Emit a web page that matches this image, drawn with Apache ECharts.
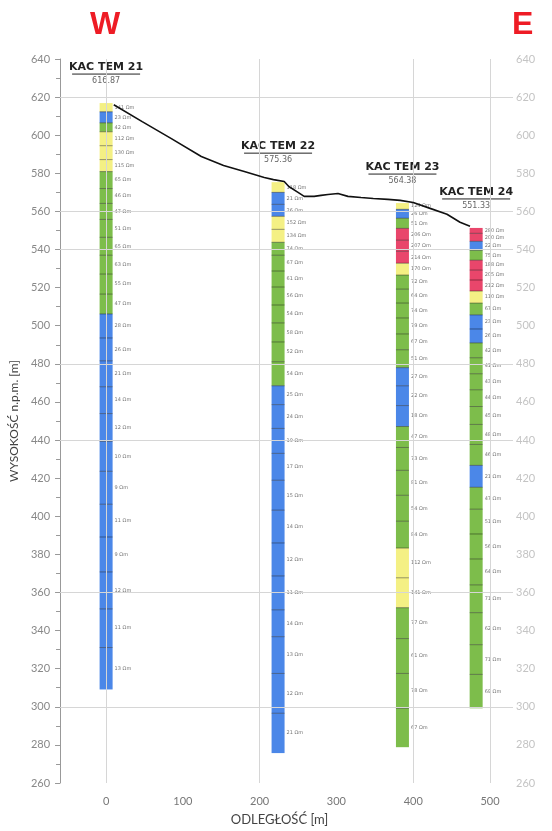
<!DOCTYPE html>
<html>
<head>
<meta charset="utf-8">
<script src="https://cdn.jsdelivr.net/npm/echarts@6/dist/echarts.min.js"></script>
<style>
  html, body { margin: 0; padding: 0; background: #fff; }
  #chart { width: 552px; height: 831px; }
</style>
</head>
<body>
<div id="chart"></div>
<script>
// boreholes
var boreNames = ['KAC TEM 21', 'KAC TEM 22', 'KAC TEM 23', 'KAC TEM 24']
var boreX = [0, 224, 386, 482]
var boreTop = ['616.87', '575.36', '564.38', '551.33']

// layer boundaries (m a.s.l.), top to bottom, and resistivity of each layer
var tem21Levels = [616.87, 612.3, 606.5, 601.8, 594.5, 587.2, 580.9, 572.0, 564.2, 555.8, 546.4, 537.0, 527.1, 516.6, 506.2, 493.6, 481.6, 468.0, 453.9, 439.3, 423.6, 406.3, 389.1, 370.8, 351.4, 331.1, 309.1]
var tem21Rho = [141, 23, 42, 112, 130, 115, 65, 46, 47, 51, 65, 63, 55, 47, 28, 26, 21, 14, 12, 10, 9, 11, 9, 12, 11, 13]

var tem22Levels = [575.36, 570.0, 563.7, 557.4, 550.6, 543.8, 537.0, 528.7, 520.3, 510.9, 501.5, 491.5, 481.1, 468.5, 458.6, 446.1, 433.0, 418.9, 403.2, 386.0, 368.7, 350.9, 336.8, 317.5, 296.6, 275.7]
var tem22Rho = [118, 21, 26, 152, 134, 74, 67, 61, 56, 54, 58, 52, 54, 25, 24, 19, 17, 15, 14, 12, 11, 14, 13, 12, 21]

var tem23Levels = [564.38, 561.1, 556.4, 551.1, 544.9, 539.1, 532.8, 526.6, 519.2, 511.9, 504.1, 495.7, 487.4, 478.0, 468.5, 458.1, 447.1, 436.1, 424.1, 411.0, 397.4, 383.3, 367.7, 352.0, 335.8, 317.5, 299.2, 278.8]
var tem23Rho = [124, 26, 51, 206, 207, 214, 170, 72, 64, 74, 79, 67, 51, 27, 22, 18, 47, 73, 81, 54, 84, 112, 141, 77, 61, 78, 67]

var tem24Levels = [551.33, 548.5, 544.3, 539.6, 534.4, 529.2, 524.0, 518.2, 511.9, 505.7, 498.3, 491.0, 483.2, 474.8, 466.4, 457.6, 448.2, 437.7, 426.7, 415.2, 403.7, 390.7, 377.6, 364.0, 349.4, 332.6, 317.0, 299.2]
var tem24Rho = [280, 200, 22, 75, 188, 205, 212, 110, 67, 23, 26, 42, 41, 43, 44, 45, 48, 46, 21, 47, 51, 56, 64, 71, 62, 71, 69]

// ground surface profile
var profileX = [10, 47, 85, 124, 153, 180, 206, 218, 232, 238, 250, 258, 271, 280, 289, 302, 315, 332, 348, 367, 383, 400, 422, 444, 461, 474]
var profileY = [616.0, 607.1, 598.2, 588.8, 584.1, 580.9, 577.8, 576.7, 575.7, 573.1, 570.0, 567.9, 567.9, 568.4, 568.9, 569.4, 567.9, 567.3, 566.8, 566.3, 565.8, 564.7, 561.6, 558.5, 554.3, 552.2]

// reference lines
var gridY = [620, 560, 540, 480, 440, 360, 300]
var gridX = [0, 200, 400, 500]
var xTicks = [0, 100, 200, 300, 400, 500]

function rhoColor(r) {
  if (r < 30) return '#4b87e8'
  if (r < 100) return '#7dbd4b'
  if (r < 180) return '#f4f084'
  return '#e9466b'
}

var levels = [tem21Levels, tem22Levels, tem23Levels, tem24Levels]
var rhos = [tem21Rho, tem22Rho, tem23Rho, tem24Rho]

var layerData = []
levels.forEach(function (lv, i) {
  rhos[i].forEach(function (r, j) {
    layerData.push([boreX[i], lv[j], lv[j + 1], r, j])
  })
})

var headData = boreX.map(function (x, i) { return [x, levels[i][0], i] })
var profile = profileX.map(function (x, i) { return [x, profileY[i]] })

var chart = echarts.init(document.getElementById('chart'))

var colW = 13

var option = {
  animation: false,
  grid: { left: 57, right: 39, top: 59, bottom: 45 },
  graphic: [
    { type: 'text', left: 90, top: 9, style: { text: 'W', fill: '#ee1c25', font: 'bold 32px "Liberation Sans", sans-serif' } },
    { type: 'text', left: 512, top: 9, style: { text: 'E', fill: '#ee1c25', font: 'bold 32px "Liberation Sans", sans-serif' } }
  ],
  xAxis: {
    type: 'value',
    min: -60,
    max: 530,
    name: 'ODLEGŁOŚĆ [m]',
    nameLocation: 'middle',
    nameGap: 30,
    nameTextStyle: { color: '#444', fontSize: 13, fontFamily: 'Lato', padding: [0, 14, 0, 0] },
    axisLine: { show: false, onZero: false },
    axisTick: { show: false },
    splitLine: { show: false },
    axisLabel: { customValues: xTicks, color: '#777', fontSize: 11, fontFamily: 'Lato', margin: 13 }
  },
  yAxis: [
    {
      type: 'value',
      min: 260,
      max: 640,
      interval: 20,
      name: 'WYSOKOŚĆ n.p.m. [m]',
      nameLocation: 'middle',
      nameGap: 40,
      nameTextStyle: { color: '#444', fontSize: 12, fontFamily: 'Lato' },
      axisLine: { show: true, onZero: false, lineStyle: { color: '#999' } },
      axisTick: { show: true, length: 5, lineStyle: { color: '#999' } },
      minorTick: { show: true, splitNumber: 2, length: 4, lineStyle: { color: '#999' } },
      splitLine: { show: false },
      axisLabel: { color: '#888', fontSize: 11, fontFamily: 'Lato', margin: 10 }
    },
    {
      type: 'value',
      position: 'right',
      min: 260,
      max: 640,
      interval: 20,
      axisLine: { show: false, onZero: false },
      axisTick: { show: false },
      splitLine: { show: false },
      axisLabel: { color: '#c4c4c4', fontSize: 11, fontFamily: 'Lato', margin: 3 }
    }
  ],
  series: [
    {
      type: 'line',
      data: [],
      z: 1,
      silent: true,
      markLine: {
        silent: true,
        symbol: 'none',
        label: { show: false },
        lineStyle: { color: '#d6d6d6', width: 1, type: 'solid' },
        data: gridY.map(function (v) { return { yAxis: v } })
          .concat(gridX.map(function (v) { return { xAxis: v } }))
      }
    },
    {
      type: 'custom',
      z: 2,
      silent: true,
      data: layerData,
      renderItem: function (params, api) {
        var x = api.value(0)
        var p1 = api.coord([x, api.value(1)])
        var p2 = api.coord([x, api.value(2)])
        var r = api.value(3)
        var kids = [
          {
            type: 'rect',
            shape: { x: p1[0] - colW / 2, y: p1[1], width: colW, height: p2[1] - p1[1] },
            style: { fill: rhoColor(r) }
          },
          {
            type: 'text',
            style: {
              text: r + ' Ωm',
              x: p1[0] + colW / 2 + 2,
              y: (p1[1] + p2[1]) / 2,
              fill: '#777',
              font: '5px "DejaVu Sans"',
              align: 'left',
              verticalAlign: 'middle'
            }
          }
        ]
        if (api.value(4) > 0) {
          kids.push({
            type: 'line',
            shape: { x1: p1[0] - colW / 2, y1: p1[1], x2: p1[0] + colW / 2, y2: p1[1] },
            style: { stroke: 'rgba(0,0,0,0.4)', lineWidth: 1 }
          })
        }
        return { type: 'group', children: kids }
      }
    },
    {
      type: 'custom',
      z: 3,
      silent: true,
      data: headData,
      renderItem: function (params, api) {
        var p = api.coord([api.value(0), api.value(1)])
        var i = api.value(2)
        return {
          type: 'group',
          children: [
            {
              type: 'text',
              style: {
                text: boreNames[i], x: p[0], y: p[1] - 36,
                fill: '#222', font: 'bold 11px "DejaVu Sans"',
                align: 'center', verticalAlign: 'middle'
              }
            },
            {
              type: 'line',
              shape: { x1: p[0] - 34, y1: p[1] - 29, x2: p[0] + 34, y2: p[1] - 29 },
              style: { stroke: '#222', lineWidth: 1 }
            },
            {
              type: 'text',
              style: {
                text: boreTop[i], x: p[0], y: p[1] - 22,
                fill: '#666', font: '8px "DejaVu Sans"',
                align: 'center', verticalAlign: 'middle'
              }
            }
          ]
        }
      }
    },
    {
      type: 'line',
      z: 5,
      silent: true,
      data: profile,
      symbol: 'none',
      lineStyle: { color: '#111', width: 1.6 }
    }
  ]
}

chart.setOption(option)
</script>
</body>
</html>
